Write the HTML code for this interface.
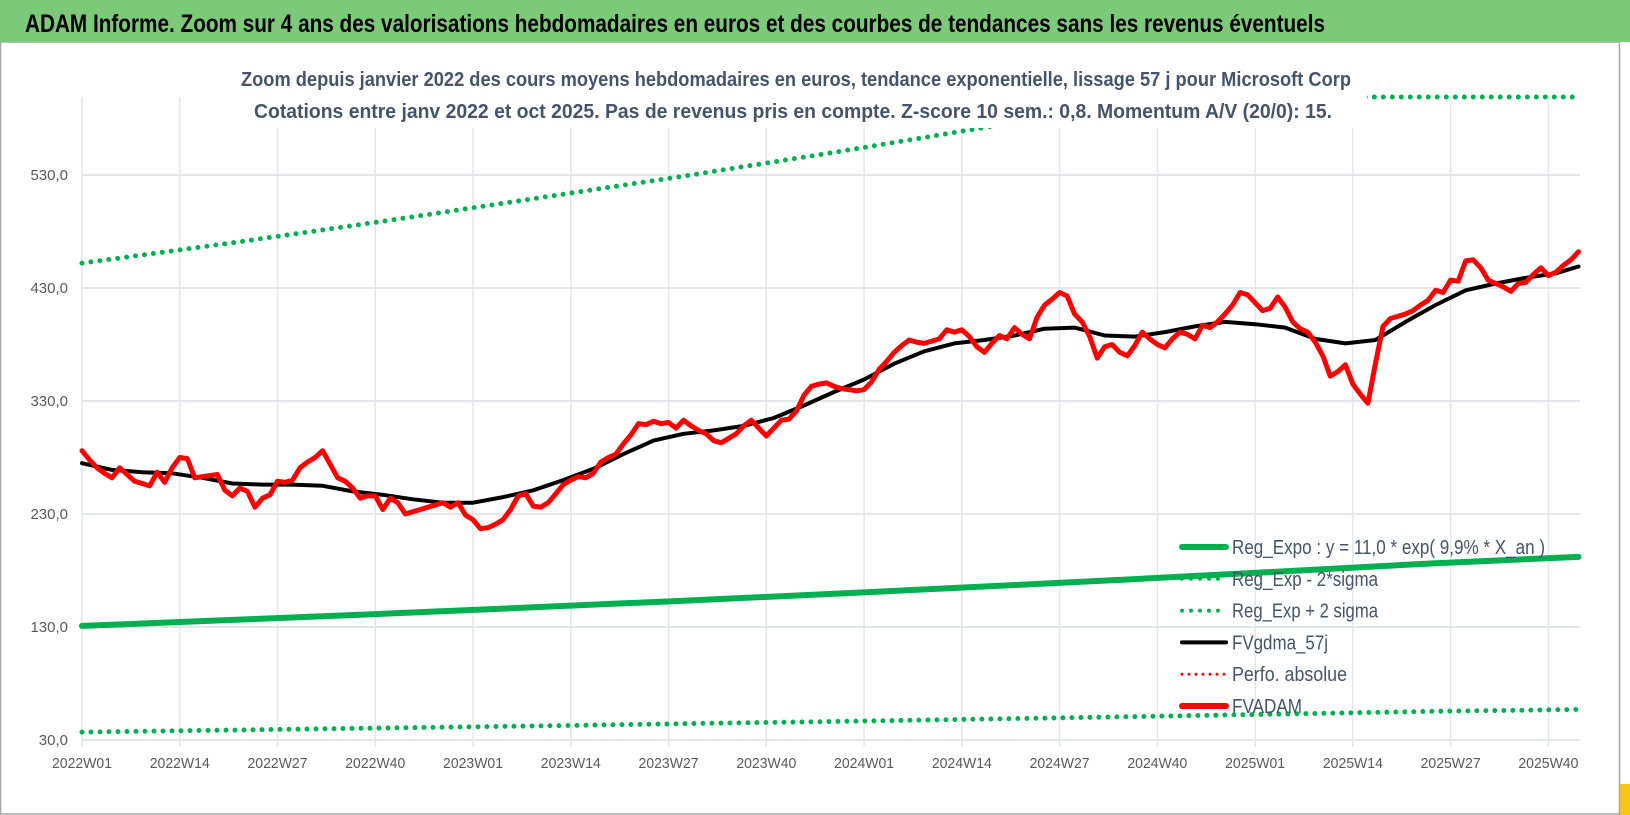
<!DOCTYPE html>
<html><head><meta charset="utf-8">
<style>
html,body{margin:0;padding:0;background:#fff;}
svg{display:block;font-family:"Liberation Sans Narrow","Liberation Sans",sans-serif;}
</style></head>
<body>
<svg id="chart" width="1630" height="815" viewBox="0 0 1630 815" xmlns="http://www.w3.org/2000/svg">
  <rect x="0" y="0" width="1630" height="815" fill="#fff"/>
  <rect x="0.5" y="42" width="1619" height="772" fill="#fff" stroke="#a6a6a6" stroke-width="1.5"/>
  <rect x="1620" y="784" width="10" height="31" fill="#f4c51a"/>
  <rect x="0" y="0" width="1630" height="42" fill="#7cc97a"/>
  <text x="25" y="32" font-size="25" font-weight="bold" fill="#000" textLength="1300" lengthAdjust="spacingAndGlyphs">ADAM Informe. Zoom sur 4 ans des valorisations hebdomadaires en euros et des courbes de tendances sans les revenus éventuels</text>
  <g id="grid"></g>
  <g id="series"></g>
  <rect x="235" y="58" width="1132" height="70" fill="#fff"/>
  <text x="796" y="86" text-anchor="middle" font-size="20" font-weight="bold" fill="#44546a" textLength="1110" lengthAdjust="spacingAndGlyphs">Zoom depuis janvier 2022 des cours moyens hebdomadaires en euros, tendance exponentielle, lissage 57 j pour Microsoft Corp</text>
  <text x="793" y="118" text-anchor="middle" font-size="20" font-weight="bold" fill="#44546a" textLength="1078" lengthAdjust="spacingAndGlyphs">Cotations entre janv 2022 et oct 2025. Pas de revenus pris en compte. Z-score 10 sem.: 0,8. Momentum A/V (20/0): 15.</text>
  <g id="axes"></g>
  <g id="legend"></g>
</svg>
<script>
const NS="http://www.w3.org/2000/svg";
const xTickLabels=["2022W01","2022W14","2022W27","2022W40","2023W01","2023W14","2023W27","2023W40","2024W01","2024W14","2024W27","2024W40","2025W01","2025W14","2025W27","2025W40"];
const xTickWeeks=[0,13,26,39,52,65,78,91,104,117,130,143,156,169,182,195];
const yTicks=[30,130,230,330,430,530];
const yTickLabels=["30,0","130,0","230,0","330,0","430,0","530,0"];
const fvadam=[286,278,271,266,262,271,265,259,257,255,
267,258,271,280,279,262,263,264,265,251,
246,253,250,236,244,247,259,258,260,
271,276,280,286,274,262,259,253,244,246,
246,234,244,240,230,232,234,236,238,240,
236,240,229,225,217,218,221,225,234,246,
248,237,236,240,248,256,260,263,262,
266,276,280,283,292,300,310,309,312,310,
311,306,313,308,304,301,295,293,297,301,
308,313,306,299,306,313,314,321,
335,343,345,346,343,341,340,339,340,347,
358,365,373,379,384,382,381,383,385,
393,391,393,387,378,373,381,388,385,395,
389,385,404,415,420,426,423,407,400,387,
368,378,380,373,370,379,391,385,380,377,
385,391,389,385,397,395,400,407,415,426,
424,417,410,412,422,413,400,394,391,
382,370,352,356,362,345,336,328,363,
396,403,405,407,410,415,419,428,426,
437,436,454,455,448,437,434,431,427,434,
435,442,448,441,444,450,455,462];
const maWeeks=[0,4,8,12,16,20,24,28,32,36,40,44,48,52,56,60,64,68,72,76,80,84,88,92,96,100,104,108,112,116,120,124,128,132,136,140,144,148,152,156,160,164,168,172,176,180,184,188,192,196,199];
const maValues=[275,269,267,266,262,257,256,256,255,250,247,243,240,240,245,251,260,270,283,295,301,304,308,315,326,338,349,363,374,381,384,388,394,395,388,387,391,396,400,398,395,385,381,384,400,415,428,434,439,443,449];
const trendWeeks=[0,20,40,60,80,100,120,140,160,180,199];
const trendValues=[131,136.3,141.7,147.4,153.3,159.4,165.8,172.4,179.3,186.5,192];
const upperValues=[452,470,489,509,529,550,572,595,619,644,668];
const lowerValues=[37,38.8,40.6,42.4,44.4,46.4,48.5,50.7,53,55.4,57];

const X0=82, XW=7.52, Y0=740, YK=1.13, PTOP=97, PRIGHT=1580;
function xs(w){return X0+w*XW;}
function ys(v){return Math.max(PTOP,Y0-(v-30)*YK);}
function mk(tag,attrs,parent){const e=document.createElementNS(NS,tag);for(const k in attrs)e.setAttribute(k,attrs[k]);parent.appendChild(e);return e;}

const grid=document.getElementById('grid');
yTicks.forEach((v,i)=>{
  const l=mk('line',{x1:X0,x2:PRIGHT,y1:ys(v),y2:ys(v),stroke:'#e3e6ea','stroke-width':2},grid);
  
  
});
xTickWeeks.forEach((w,i)=>{
  const l=mk('line',{x1:xs(w),x2:xs(w),y1:PTOP,y2:Y0+7,stroke:'#e3e6ea','stroke-width':1.5},grid);
  
  
});

const ser=document.getElementById('series');
const g=mk('g',{},ser);
function pts(ws,vs){
  // sample densely along segments so clamped portions follow plot top
  const out=[];
  for(let i=0;i<vs.length;i++){
    if(i>0){
      const n=8;
      for(let k=1;k<n;k++){
        const w=ws[i-1]+(ws[i]-ws[i-1])*k/n;
        const v=vs[i-1]+(vs[i]-vs[i-1])*k/n;
        out.push(xs(w).toFixed(1)+','+ys(v).toFixed(1));
      }
    }
    out.push(xs(ws[i]).toFixed(1)+','+ys(vs[i]).toFixed(1));
  }
  return out.join(' ');
}
function ptsRaw(ws,vs){return vs.map((v,i)=>xs(ws[i]).toFixed(1)+','+ys(v).toFixed(1)).join(' ');}

const up=mk('polyline',{points:pts(trendWeeks,upperValues),fill:'none',stroke:'#00b050','stroke-width':5,'stroke-linecap':'round','stroke-dasharray':'0 9'},g);


const lo=mk('polyline',{points:ptsRaw(trendWeeks,lowerValues),fill:'none',stroke:'#00b050','stroke-width':5,'stroke-linecap':'round','stroke-dasharray':'0 9'},g);


const tr=mk('polyline',{points:ptsRaw(trendWeeks,trendValues),fill:'none',stroke:'#00b050','stroke-width':6,'stroke-linecap':'round'},g);


const ma=mk('polyline',{points:ptsRaw(maWeeks,maValues),fill:'none',stroke:'#000','stroke-width':4,'stroke-linejoin':'round','stroke-linecap':'round'},g);


const fvWeeks=fvadam.map((v,i)=>i);
const fv=mk('polyline',{points:ptsRaw(fvWeeks,fvadam),fill:'none',stroke:'#ff0000','stroke-width':5,'stroke-linejoin':'round','stroke-linecap':'round'},g);



const ax=document.getElementById('axes');
yTicks.forEach((v,i)=>{
  const t=mk('text',{x:68,y:ys(v)+5,'text-anchor':'end','font-size':15,fill:'#595959'},ax);
  t.textContent=yTickLabels[i];
  
  
});
xTickWeeks.forEach((w,i)=>{
  const t=mk('text',{x:xs(w),y:768,'text-anchor':'middle','font-size':15,fill:'#595959',textLength:60,lengthAdjust:'spacingAndGlyphs'},ax);
  t.textContent=xTickLabels[i];
  
  
});

const lg=document.getElementById('legend');
const legendItems=[
 ["Reg_Expo : y = 11,0 * exp( 9,9% *  X_an )","#00b050",6,null,"legend-reg-expo",313],
 ["Reg_Exp - 2*sigma","#00b050",4,"0 9","legend-reg-exp-minus",146],
 ["Reg_Exp + 2 sigma","#00b050",4,"0 9","legend-reg-exp-plus",146],
 ["FVgdma_57j","#000",4,null,"legend-fvgdma",96],
 ["Perfo. absolue","#ff0000",3,"0 7","legend-perfo-absolue",115],
 ["FVADAM","#ff0000",6,null,"legend-fvadam",70]];
legendItems.forEach((it,i)=>{
  const y=547+i*31.8;
  const gg=mk('g',{},lg);
  
  
  const a={x1:1182,x2:1226,y1:y,y2:y,stroke:it[1],'stroke-width':it[2],'stroke-linecap':'round'};
  if(it[3])a['stroke-dasharray']=it[3];
  mk('line',a,gg);
  const t=mk('text',{x:1232,y:y+7,'font-size':20,fill:'#44546a',textLength:it[5],lengthAdjust:'spacingAndGlyphs'},gg);
  t.textContent=it[0];
});
</script>
</body></html>
